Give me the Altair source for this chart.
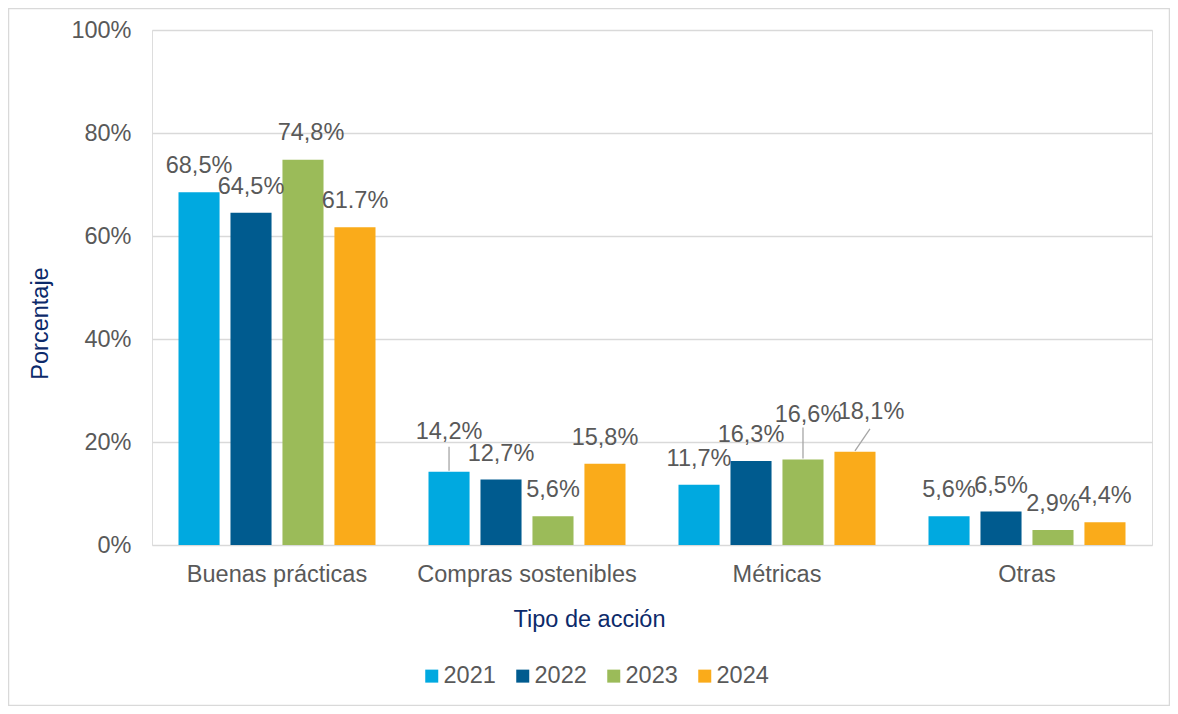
import altair as alt
import pandas as pd

categories = ["Buenas prácticas", "Compras sostenibles", "Métricas", "Otras"]
years = ["2021", "2022", "2023", "2024"]
v2021 = [68.5, 14.2, 11.7, 5.6]
v2022 = [64.5, 12.7, 16.3, 6.5]
v2023 = [74.8, 5.6, 16.6, 2.9]
v2024 = [61.7, 15.8, 18.1, 4.4]
colors = ["#00A9E0", "#005B8F", "#9BBB59", "#FAAB1A"]
y_ticks = [0, 20, 40, 60, 80, 100]

# label written with a decimal point instead of a comma in the original
point_labels = {("Buenas prácticas", "2024")}
# label nudges (dx px, lift px above bar top)
default_nudge = (0, 26)
label_nudge = {
    ("Buenas prácticas", "2023"): (8, 27),
    ("Compras sostenibles", "2021"): (0, 40),
    ("Métricas", "2023"): (5, 45),
    ("Métricas", "2024"): (16, 40),
}
# leader lines (dx px, length px upward)
leaders = {
    ("Compras sostenibles", "2021"): (0, 24),
    ("Métricas", "2023"): (0, 31),
    ("Métricas", "2024"): (15, 22),
}

TXT = "#595959"
NAVY = "#0C2A6A"
GRID = "#D9D9D9"
FONT = "Liberation Sans"
FS = 23.5

rows = []
for yr, vals in zip(years, [v2021, v2022, v2023, v2024]):
    for c, v in zip(categories, vals):
        txt = f"{v:.1f}"
        if (c, yr) not in point_labels:
            txt = txt.replace(".", ",")
        rows.append({"cat": c, "year": yr, "value": v, "label": txt + "%"})
df = pd.DataFrame(rows)

x_enc = alt.X("cat:N", sort=categories,
              scale=alt.Scale(paddingInner=0.212, paddingOuter=0.106),
              axis=alt.Axis(title="Tipo de acción", labelFontSize=FS, labelColor=TXT,
                            labelFont=FONT, labelPadding=29, labelBaseline="middle",
                            labelLimit=0,
                            ticks=False, tickSize=0, domain=False, labelAngle=0,
                            titleFont=FONT, titleFontSize=FS, titleColor=NAVY,
                            titleFontWeight="normal", titleX=437, titleY=74,
                            titleAlign="center", titleBaseline="middle"))
xo_enc = alt.XOffset("year:N", sort=years,
                     scale=alt.Scale(paddingInner=0.21, paddingOuter=0))
y_scale = alt.Scale(domain=[0, 100], nice=False)

base = alt.Chart(df)

bars = base.mark_bar().encode(
    x=x_enc,
    xOffset=xo_enc,
    y=alt.Y("value:Q", scale=y_scale,
            axis=alt.Axis(title="Porcentaje", values=y_ticks,
                          labelExpr="datum.value + '%'", labelFontSize=FS,
                          labelColor=TXT, labelFont=FONT, labelPadding=21,
                          ticks=False, tickSize=0, domain=False,
                          grid=True, gridColor=GRID, gridWidth=1.3,
                          titleFont=FONT, titleFontSize=FS, titleColor=NAVY,
                          titleFontWeight="normal", titleX=-112, titleY=293,
                          titleAngle=270, titleAlign="center",
                          titleBaseline="middle")),
    color=alt.Color("year:N", sort=years,
                    scale=alt.Scale(domain=years, range=colors),
                    legend=alt.Legend(title=None, orient="none", direction="horizontal",
                                      legendX=268, legendY=634,
                                      symbolType="square", symbolSize=169,
                                      symbolStrokeWidth=0, labelFontSize=FS,
                                      labelFont=FONT, labelColor=TXT, labelOffset=0,
                                      columnPadding=15)),
)

layers = [bars]

# labels
nudges = sorted(set([default_nudge] + list(label_nudge.values())))
df["nudge"] = [
    nudges.index(label_nudge.get((r.cat, r.year), default_nudge)) for r in df.itertuples()
]
for i, (dx, lift) in enumerate(nudges):
    layers.append(
        base.transform_filter(alt.datum.nudge == i)
        .mark_text(fontSize=FS, font=FONT, color=TXT, baseline="middle",
                   align="center", dx=dx, dy=-lift)
        .encode(x=alt.X("cat:N", sort=categories), xOffset=xo_enc,
                y=alt.Y("value:Q", scale=y_scale), text="label:N")
    )

# leader lines: drawn as a custom symbol path anchored at the bar top
for (c, yr), (ldx, length) in leaders.items():
    r = max(ldx, length)
    path = f"M0,0L{ldx / r:.4f},{-length / r:.4f}"
    layers.append(
        base.transform_filter((alt.datum.cat == c) & (alt.datum.year == yr))
        .mark_point(shape=path, size=(2 * r) ** 2, filled=False, opacity=1,
                    stroke="#A6A6A6", strokeWidth=1.3, yOffset=-1)
        .encode(x=alt.X("cat:N", sort=categories), xOffset=xo_enc,
                y=alt.Y("value:Q", scale=y_scale))
    )

# outer frame of the chart area
frame = alt.Chart(pd.DataFrame({"a": [0]})).mark_rect(
    fillOpacity=0, stroke=GRID, strokeWidth=1.5
).encode(x=alt.value(-143.5), x2=alt.value(1017.5),
         y=alt.value(-21.5), y2=alt.value(675.5))
layers.append(frame)

chart = alt.layer(*layers).properties(
    width=1000, height=515,
    autosize=alt.AutoSizeParams(type="none"),
    padding={"left": 144, "top": 22, "right": 18, "bottom": 161},
).configure_view(stroke=None).configure(background="white")

chart.save("out.html", embed_options={"renderer": "svg", "actions": False})
